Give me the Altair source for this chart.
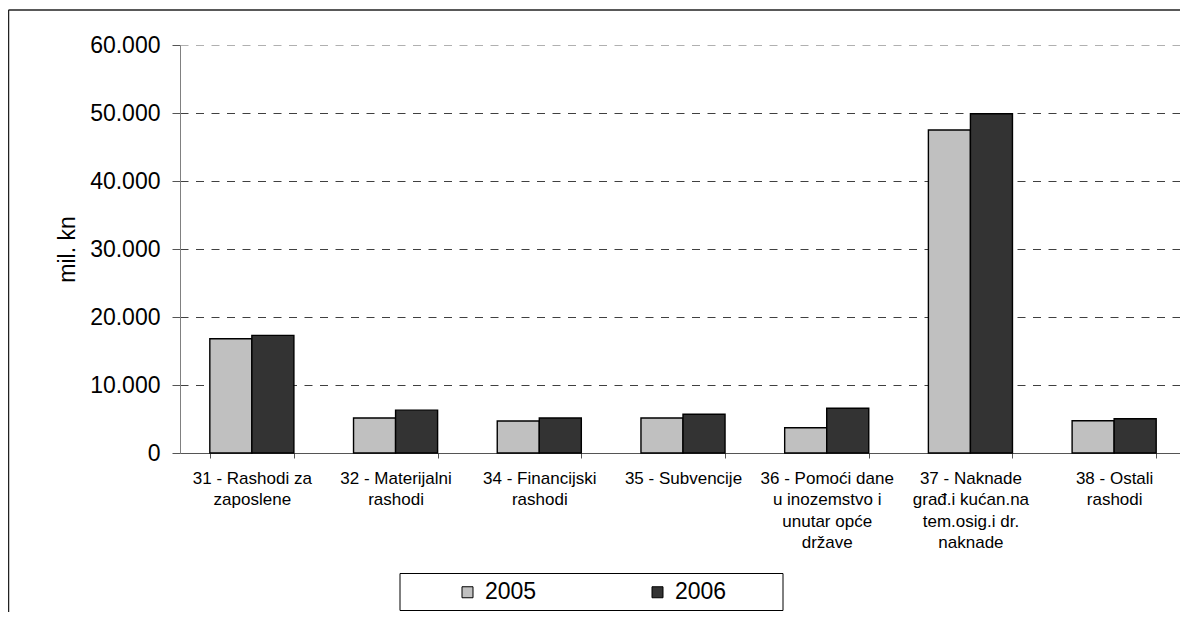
import altair as alt
import pandas as pd

# ---- data ----
categories = [
    "31 - Rashodi za\nzaposlene",
    "32 - Materijalni\nrashodi",
    "34 - Financijski\nrashodi",
    "35 - Subvencije",
    "36 - Pomoći dane\nu inozemstvo i\nunutar opće\ndržave",
    "37 - Naknade\ngrađ.i kućan.na\ntem.osig.i dr.\nnaknade",
    "38 - Ostali\nrashodi",
]
years = ["2005", "2006"]
values_2005 = [16800, 5150, 4700, 5150, 3720, 47500, 4750]
values_2006 = [17300, 6300, 5150, 5700, 6570, 49900, 5040]
y_ticks = [0, 10000, 20000, 30000, 40000, 50000, 60000]
colors = ["#C0C0C0", "#333333"]

rows = []
for c, a, b in zip(categories, values_2005, values_2006):
    rows.append({"kategorija": c, "godina": years[0], "vrijednost": a})
    rows.append({"kategorija": c, "godina": years[1], "vrijednost": b})
df = pd.DataFrame(rows)

FONT = "Liberation Sans, Arial, sans-serif"
W, H = 1006, 408

bars = alt.Chart(df).mark_bar(stroke="black", strokeWidth=1.4).encode(
    x=alt.X(
        "kategorija:N",
        sort=categories,
        title=None,
        scale=alt.Scale(paddingInner=0.415, paddingOuter=0.2075),
        axis=alt.Axis(
            labelAngle=0,
            labelExpr="split(datum.label, '\\n')",
            labelFont=FONT,
            labelFontSize=17,
            labelLineHeight=21.5,
            labelBaseline="top",
            labelAlign="center",
            labelColor="black",
            labelLimit=300,
            labelPadding=12,
            tickBand="extent",
            tickSize=5,
            tickColor="#555555",
            domainColor="#555555",
            domainWidth=1,
            grid=False,
        ),
    ),
    xOffset=alt.XOffset(
        "godina:N", sort=years, scale=alt.Scale(paddingInner=0, paddingOuter=0)
    ),
    y=alt.Y(
        "vrijednost:Q",
        title="mil. kn",
        scale=alt.Scale(domain=[0, 60000], nice=False),
        axis=alt.Axis(
            values=y_ticks,
            labelExpr="replace(format(datum.value, ','), ',', '.')",
            labelFont=FONT,
            labelFontSize=23,
            labelColor="black",
            labelPadding=12,
            tickSize=8,
            tickColor="#555555",
            domainColor="#808080",
            grid=True,
            gridDash=[8, 7.5],
            gridColor={
                "condition": {"test": "datum.value === 60000", "value": "#b0b0b0"},
                "value": "#404040",
            },
            gridWidth=1,
            titleFont=FONT,
            titleFontSize=23,
            titleFontWeight="normal",
            titleColor="black",
            titlePadding=10,
        ),
    ),
    color=alt.Color(
        "godina:N",
        sort=years,
        scale=alt.Scale(domain=years, range=colors),
        legend=alt.Legend(
            title=None,
            orient="none",
            legendX=276,
            legendY=535.5,
            direction="horizontal",
            padding=0,
            symbolType="square",
            symbolSize=121,
            symbolStrokeColor="black",
            symbolStrokeWidth=1,
            symbolOpacity=1,
            labelFont=FONT,
            labelFontSize=23,
            labelColor="black",
            labelOffset=6,
            columnPadding=109,
        ),
    ),
)

one = pd.DataFrame({"k": [0]})
# chart frame (outer border) and the legend frame
frame_left = alt.Chart(one).mark_rule(color="#222222", strokeWidth=1.5).encode(
    x=alt.value(-171.5), y=alt.value(-35), y2=alt.value(620)
)
frame_top = alt.Chart(one).mark_rule(color="#222222", strokeWidth=1.5).encode(
    y=alt.value(-35), x=alt.value(-171.5), x2=alt.value(1010)
)
legend_box = alt.Chart(one).mark_rect(fill="white", stroke="black", strokeWidth=1).encode(
    x=alt.value(220), x2=alt.value(603), y=alt.value(528.5), y2=alt.value(565.5)
)

chart = alt.layer(bars, frame_left, frame_top, legend_box).properties(
    width=W,
    height=H,
    autosize=alt.AutoSizeParams(type="none"),
    padding={"left": 172, "top": 37, "right": -6, "bottom": 159},
    background="white",
).configure_view(stroke=None)

chart.save("out.html", embed_options={"renderer": "svg", "actions": False})
